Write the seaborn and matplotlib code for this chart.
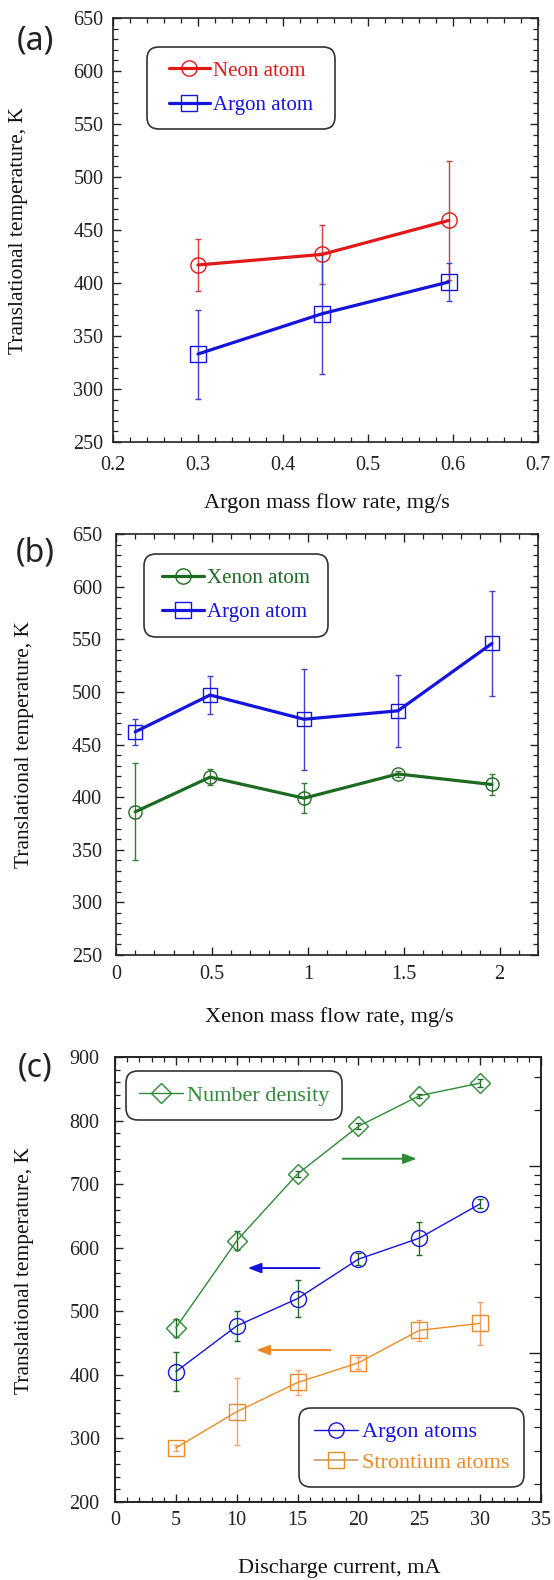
import numpy as np
import pandas as pd
import seaborn as sns
import matplotlib
matplotlib.use("Agg")
import matplotlib.pyplot as plt
from matplotlib.lines import Line2D
from matplotlib.patches import FancyBboxPatch
from matplotlib.transforms import IdentityTransform
from matplotlib.ticker import MultipleLocator, LogLocator, NullFormatter, FixedLocator

# ---------------- data ----------------
a_flow = [0.30, 0.446, 0.595]
a_neon = [417, 427, 459]
a_neon_err = [24.5, 28, 56]
a_argon = [333, 371, 401]
a_argon_err = [42, 57, 18]

b_flow = [0.10, 0.49, 0.98, 1.47, 1.96]
b_xenon = [386, 419, 399, 422, 412]
b_xenon_err = [46, 7.5, 14, 3, 10]
b_argon = [462, 497, 474, 482, 546]
b_argon_err = [12, 18, 48, 34, 50]

c_current = [5, 10, 15, 20, 25, 30]
c_density = [474, 611, 716, 791, 839, 859]
c_density_err = [14, 15, 5, 5, 3, 6]
c_argon = [405, 477, 520, 582, 615, 669]
c_argon_err = [31, 24, 29, 9, 26, 7]
c_sr = [285, 342, 388, 419, 470, 481]
c_sr_err = [5, 53, 20, 9, 17, 34]

arrow_green = [(18.7, 740), (24.8, 740)]
arrow_blue = [(16.8, 568), (10.9, 568)]
arrow_orange = [(17.7, 439), (11.6, 439)]

W, H = 554, 1580
sns.set_style("ticks")
SERIF = ["Liberation Serif", "DejaVu Serif"]
plt.rcParams["font.family"] = SERIF
plt.rcParams["mathtext.fontset"] = "stix"

fig = plt.figure(figsize=(W / 100, H / 100), dpi=100)

def axes_px(l, t, r, b):
    return fig.add_axes([l / W, 1 - b / H, (r - l) / W, (b - t) / H])

ax_a = axes_px(113, 18, 538, 442)
ax_b = axes_px(116, 534, 538, 955)
ax_c = axes_px(115, 1057, 541, 1502)

RED = "#e01818"
BLUE = "#1414dc"
DKGREEN = "#1d6b22"
GREEN = "#2f8a36"
ORANGE = "#f08a24"
TAN = "#c89a70"

def style_axes(ax, xmaj, xmin, ymaj, ymin, xpad, ypad, right=True):
    ax.xaxis.set_major_locator(MultipleLocator(xmaj))
    ax.xaxis.set_minor_locator(MultipleLocator(xmin))
    ax.yaxis.set_major_locator(MultipleLocator(ymaj))
    ax.yaxis.set_minor_locator(MultipleLocator(ymin))
    ax.tick_params(axis="both", which="both", direction="in", top=True, right=right,
                   colors="#222222", labelcolor="#222222")
    ax.tick_params(axis="both", which="major", length=6, width=1.0, labelsize=14.5,
                   labelfontfamily="Liberation Serif")
    ax.tick_params(axis="both", which="minor", length=3.5, width=0.9)
    ax.tick_params(axis="x", which="major", pad=xpad)
    ax.tick_params(axis="y", which="major", pad=ypad)
    for s in ax.spines.values():
        s.set_color("#222222")
        s.set_linewidth(1.2)
    ax.set_xlabel("")
    ax.set_ylabel("")

def series(ax, x, y, err, color, marker, ms, lw, ecolor, mec=None, zl=3):
    ax.errorbar(x, y, yerr=err, fmt="none", ecolor=ecolor, elinewidth=1.0,
                capsize=2.5, capthick=1.0, zorder=zl - 1)
    sns.lineplot(x=x, y=y, ax=ax, color=color, lw=lw, marker=marker, ms=ms,
                 mfc="none", mec=mec or color, mew=1.0, legend=False, zorder=zl,
                 estimator=None)

def boxed_legend(ax, handles, labels, colors, box, fontsize, labelspacing=0.7):
    x0, y0, x1, y1 = box
    patch = FancyBboxPatch((x0, H - y1), x1 - x0, y1 - y0,
                           boxstyle="round,pad=0,rounding_size=12",
                           transform=IdentityTransform(), fc="white", ec="#333333",
                           lw=1.2, zorder=8, clip_on=False)
    ax.add_artist(patch)
    leg = ax.legend(handles, labels, loc="center",
                    bbox_to_anchor=((x0 + x1) / 2 / W, 1 - (y0 + y1) / 2 / H),
                    bbox_transform=fig.transFigure, frameon=False,
                    fontsize=fontsize, handlelength=2.0, handletextpad=0.15,
                    labelspacing=labelspacing, borderpad=0.2, labelcolor=colors)
    leg.set_zorder(9)
    return leg

# ---------------- panel (a) ----------------
series(ax_a, a_flow, a_neon, a_neon_err, RED, "o", 11, 2.3, "#d04040")
series(ax_a, a_flow, a_argon, a_argon_err, BLUE, "s", 11, 2.3, "#4040d0")
ax_a.set_xlim(0.2, 0.7)
ax_a.set_ylim(250, 650)
style_axes(ax_a, 0.1, 0.02, 50, 10, xpad=10, ypad=7)
ha = [Line2D([], [], color=RED, lw=2.3, marker="o", ms=11, mfc="none", mec=RED, mew=1),
      Line2D([], [], color=BLUE, lw=2.3, marker="s", ms=11, mfc="none", mec=BLUE, mew=1)]
boxed_legend(ax_a, ha, ["Neon atom", "Argon atom"], [RED, BLUE], (147, 47, 335, 129), 15)

# ---------------- panel (b) ----------------
series(ax_b, b_flow, b_xenon, b_xenon_err, DKGREEN, "o", 9.5, 2.3, "#3a7a3a")
series(ax_b, b_flow, b_argon, b_argon_err, BLUE, "s", 9.5, 2.3, "#4040d0")
ax_b.set_xlim(0, 2.2)
ax_b.set_ylim(250, 650)
style_axes(ax_b, 0.5, 0.1, 50, 10, xpad=7, ypad=10)
ax_b.xaxis.set_major_formatter(matplotlib.ticker.FuncFormatter(lambda v, p: f"{v:g}"))
hb = [Line2D([], [], color=DKGREEN, lw=2.3, marker="o", ms=11, mfc="none", mec=DKGREEN, mew=1),
      Line2D([], [], color=BLUE, lw=2.3, marker="s", ms=11, mfc="none", mec=BLUE, mew=1)]
boxed_legend(ax_b, hb, ["Xenon atom", "Argon atom"], [DKGREEN, BLUE], (144, 554, 328, 637), 15)

# ---------------- panel (c) ----------------
series(ax_c, c_current, c_density, c_density_err, GREEN, "D", 10, 1.0, DKGREEN)
series(ax_c, c_current, c_argon, c_argon_err, BLUE, "o", 11.5, 1.0, DKGREEN)
series(ax_c, c_current, c_sr, c_sr_err, ORANGE, "s", 11.5, 1.0, "#f5a070", mec=ORANGE)
ax_c.set_xlim(0, 35)
ax_c.set_ylim(200, 900)
style_axes(ax_c, 5, 1, 100, 20, xpad=6.5, ypad=11, right=False)

for (p0, p1), col in [(arrow_green, GREEN), (arrow_blue, BLUE), (arrow_orange, ORANGE)]:
    ax_c.annotate("", xy=p1, xytext=p0,
                  arrowprops=dict(arrowstyle="-|>,head_length=0.8,head_width=0.3",
                                  color=col, lw=1.4, shrinkA=0, shrinkB=0))

# right-hand (number density) axis: its labels lie outside the picture
ax_c2 = ax_c.twinx()
ax_c2.set_yscale("log")
ax_c2.set_ylim(10 ** 17.203, 10 ** 19.583)
ax_c2.yaxis.set_major_locator(FixedLocator([1e18, 1e19]))
ax_c2.yaxis.set_minor_locator(LogLocator(base=10, subs=np.arange(2, 10)))
ax_c2.yaxis.set_minor_formatter(NullFormatter())
ax_c2.yaxis.set_major_formatter(NullFormatter())
ax_c2.tick_params(axis="y", which="both", direction="in", colors="#222222")
ax_c2.tick_params(axis="y", which="major", length=9, width=1.0)
ax_c2.tick_params(axis="y", which="minor", length=5, width=0.9)
for s in ax_c2.spines.values():
    s.set_color("#222222")
    s.set_linewidth(1.2)
ax_c2.set_ylabel("")

hc1 = [Line2D([], [], color=GREEN, lw=1.0, marker="D", ms=10, mfc="none", mec=GREEN, mew=1)]
boxed_legend(ax_c, hc1, ["Number density"], [GREEN], (126, 1071, 342, 1120), 16)
hc2 = [Line2D([], [], color=BLUE, lw=1.0, marker="o", ms=11, mfc="none", mec=BLUE, mew=1),
       Line2D([], [], color=TAN, lw=1.2, marker="s", ms=11, mfc="none", mec=ORANGE, mew=1)]
boxed_legend(ax_c2, hc2, ["Argon atoms", "Strontium atoms"], [BLUE, ORANGE],
             (299, 1408, 524, 1487), 16, labelspacing=0.45)

# ---------------- labels ----------------
def ftext(x, y, s, **kw):
    fig.text(x / W, 1 - y / H, s, ha="center", va="center", **kw)

ftext(327, 503, "Argon mass flow rate, mg/s", fontsize=16, color="#111111")
ftext(329, 1017, "Xenon mass flow rate, mg/s", fontsize=16, color="#111111")
ftext(339, 1568, "Discharge current, mA", fontsize=16, color="#111111")
for yc, xc in [(230, 19), (744, 25), (1271, 25)]:
    ftext(xc, yc, "Translational temperature, K", fontsize=15.5, rotation=90, color="#111111")

for s, yc in [("(a)", 41), ("(b)", 553), ("(c)", 1068)]:
    fig.text(35 / W, 1 - yc / H, s, ha="center", va="center", fontsize=23,
             family=["Noto Sans", "DejaVu Sans"], color="#222222")

fig.savefig("out.png", dpi=100)
